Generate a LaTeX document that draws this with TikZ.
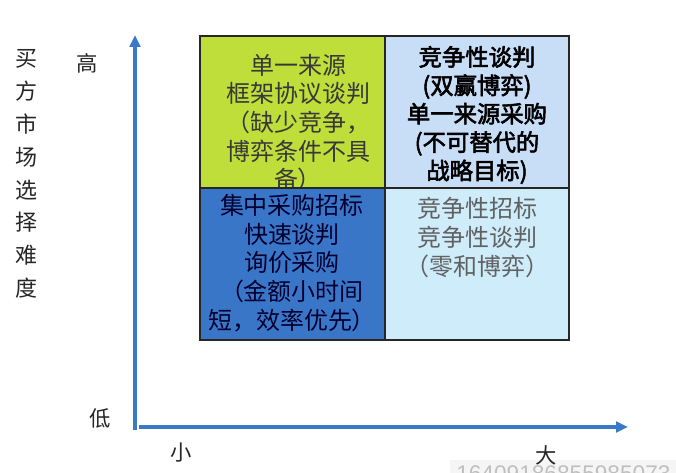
\documentclass[tikz,border=0pt]{standalone}
\usepackage{fontspec}
\newfontfamily\cjk{Noto Sans CJK SC}
\newfontfamily\cjkb[FakeBold=2.5]{Noto Sans CJK SC}
\setmainfont{Liberation Sans}
\usetikzlibrary{arrows.meta}
\definecolor{tlcol}{RGB}{192,222,58}
\definecolor{trcol}{RGB}{200,221,246}
\definecolor{blcol}{RGB}{58,118,200}
\definecolor{brcol}{RGB}{206,236,250}
\definecolor{axiscol}{RGB}{58,120,200}
\tikzset{
  axisline/.style={draw=axiscol, line width=2.6pt, -{Triangle[width=8pt,length=9pt]}},
  celltext/.style={align=center, inner sep=0pt, font=\cjk\fontsize{18}{21.5}\selectfont},
  boldtext/.style={align=center, inner sep=0pt, font=\cjkb\fontsize{17.5}{21.3}\selectfont, text=black},
  lbl/.style={inner sep=0pt, font=\cjk\fontsize{16}{16}\selectfont, text=black!85},
  grid/.style={draw=black!85, line width=1.4pt}
}
\begin{document}
\begin{tikzpicture}[x=0.75pt,y=-0.75pt]
\useasboundingbox (0,0) rectangle (676,473);
\fill[white] (0,0) rectangle (676,473);
% watermark (behind everything)
\fill[black!4] (450,460) rectangle (676,473);
\node[anchor=north west, inner sep=0pt, text=black!25, font=\fontsize{17}{17}\selectfont] (wm) at (456,465) {16409186855985073};
% quadrant fills (top)
\fill[tlcol] (200,36) rectangle (385,188);
\fill[trcol] (385,36) rectangle (569,188);
\node[celltext, text=black!78] (tl) at (298,122.5) {单一来源\\框架协议谈判\\（缺少竞争，\\博弈条件不具\\备）};
\node[boldtext] (tr) at (477,115) {竞争性谈判\\(双赢博弈)\\单一来源采购\\(不可替代的\\战略目标)};
% quadrant fills (bottom)
\fill[blcol] (200,188) rectangle (385,340);
\fill[brcol] (385,188) rectangle (569,340);
\node[celltext, text=black!82!blue] (bl) at (292,263) {集中采购招标\\快速谈判\\询价采购\\（金额小时间\\短，效率优先）};
\node[celltext, text=black!62] (br) at (477,237.5) {竞争性招标\\竞争性谈判\\（零和博弈）};
% grid lines
\draw[grid] (200,36) rectangle (569,340);
\draw[grid] (385,36) -- (385,340);
\draw[grid] (200,188) -- (569,188);
% axes
\coordinate (yb) at (135,430);
\coordinate (yt) at (135,35);
\coordinate (xl) at (139,427);
\coordinate (xr) at (628,427);
\draw[axisline] (yb) -- (yt);
\draw[axisline] (xl) -- (xr);
% labels
\node[lbl, align=center, font=\cjk\fontsize{16.5}{24.6}\selectfont] (ytitle) at (27,174) {买\\方\\市\\场\\选\\择\\难\\度};
\node[lbl] (hi) at (87,63) {高};
\node[lbl] (lo) at (100,418) {低};
\node[lbl] (sm) at (181,453) {小};
\node[lbl] (bg) at (546,455) {大};
\end{tikzpicture}
\end{document}
